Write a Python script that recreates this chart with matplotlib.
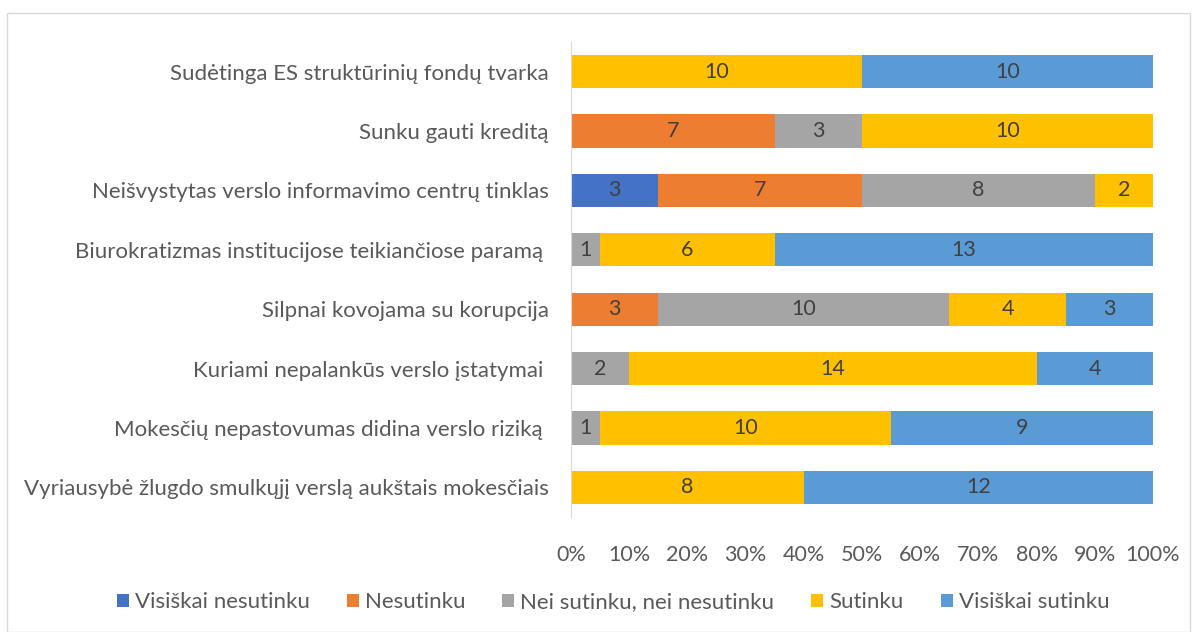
import matplotlib.pyplot as plt
import matplotlib.patches as patches
import numpy as np

plt.rcParams['font.family'] = ['Lato', 'DejaVu Sans']

categories = [
    "Sudėtinga ES struktūrinių fondų tvarka",
    "Sunku gauti kreditą",
    "Neišvystytas verslo informavimo centrų tinklas",
    "Biurokratizmas institucijose teikiančiose paramą ",
    "Silpnai kovojama su korupcija",
    "Kuriami nepalankūs verslo įstatymai ",
    "Mokesčių nepastovumas didina verslo riziką ",
    "Vyriausybė žlugdo smulkųjį verslą aukštais mokesčiais",
]
series_names = ["Visiškai nesutinku", "Nesutinku", "Nei sutinku, nei nesutinku",
                "Sutinku", "Visiškai sutinku"]
visiskai_nesutinku = [0, 0, 3, 0, 0, 0, 0, 0]
nesutinku = [0, 7, 7, 0, 3, 0, 0, 0]
nei_nei = [0, 3, 8, 1, 10, 2, 1, 0]
sutinku = [10, 10, 2, 6, 4, 14, 10, 8]
visiskai_sutinku = [10, 0, 0, 13, 3, 4, 9, 12]
colors = ["#4472C4", "#ED7D31", "#A5A5A5", "#FFC000", "#5B9BD5"]

data = np.array([visiskai_nesutinku, nesutinku, nei_nei, sutinku, visiskai_sutinku], dtype=float)
totals = data.sum(axis=0)
pct = data / totals

fig = plt.figure(figsize=(11.97, 6.32), dpi=100)
ax = fig.add_axes([571 / 1197, 1 - 517 / 632, (1153 - 571) / 1197, 475 / 632])

y = np.arange(len(categories))
left = np.zeros(len(categories))
for i, name in enumerate(series_names):
    ax.barh(y, pct[i], left=left, height=0.56, color=colors[i], label=name)
    for j in range(len(categories)):
        if data[i, j] > 0:
            ax.text(left[j] + pct[i, j] / 2, y[j], f"{int(data[i, j])}",
                    ha="center", va="center", fontsize=15.5, color="#404040")
    left += pct[i]

ax.set_ylim(len(categories) - 0.5, -0.5)
ax.set_xlim(0, 1)
ax.set_yticks(y)
ax.set_yticklabels(categories, fontsize=16, color="#595959")
ax.set_xticks(np.linspace(0, 1, 11))
ax.set_xticklabels([f"{k}%" for k in range(0, 101, 10)], fontsize=15.5, color="#595959")
ax.tick_params(length=0)
ax.tick_params(axis="y", pad=16)
ax.tick_params(axis="x", pad=20)
for s in ["top", "right", "bottom"]:
    ax.spines[s].set_visible(False)
ax.spines["left"].set_color("#D9D9D9")

leg = fig.legend(loc="center", bbox_to_anchor=(0.512, 1 - 602 / 632), ncol=5, frameon=False,
                 fontsize=16, handlelength=0.54, handleheight=0.54, handletextpad=0.27,
                 columnspacing=1.67)
for t in leg.get_texts():
    t.set_color("#595959")

fig.patches.append(patches.Rectangle((7 / 1197, 0), 1183 / 1197, 1 - 13 / 632,
                                     transform=fig.transFigure, fill=False,
                                     edgecolor="#D9D9D9", linewidth=1))

fig.savefig("out.png", dpi=100)
